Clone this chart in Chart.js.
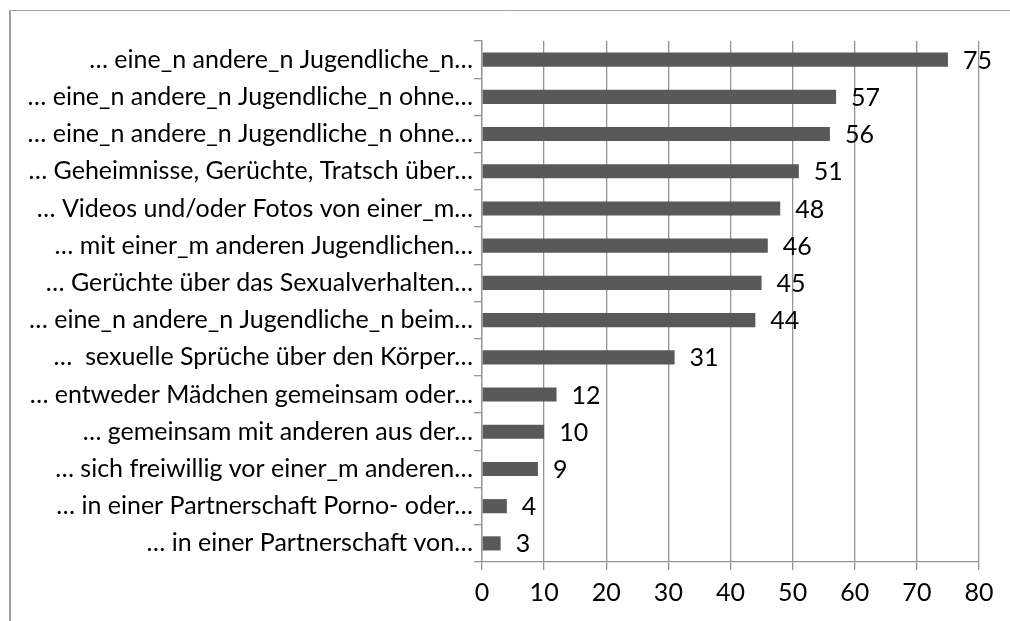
<!DOCTYPE html>
<html>
<head>
<meta charset="utf-8">
<script src="https://cdn.jsdelivr.net/npm/chart.js@4.4.1/dist/chart.umd.min.js"></script>
<style>
  html, body { margin: 0; padding: 0; background: #ffffff; }
  #wrap { width: 1010px; height: 621px; position: relative; }
</style>
</head>
<body>
<div id="wrap"><canvas id="c" width="1010" height="621"></canvas></div>
<script>
const categories = [
  "… eine_n andere_n Jugendliche_n…",
  "… eine_n andere_n Jugendliche_n ohne…",
  "… eine_n andere_n Jugendliche_n ohne…",
  "… Geheimnisse, Gerüchte, Tratsch über…",
  "… Videos und/oder Fotos von einer_m…",
  "… mit einer_m anderen Jugendlichen…",
  "… Gerüchte über das Sexualverhalten…",
  "… eine_n andere_n Jugendliche_n beim…",
  "…  sexuelle Sprüche über den Körper…",
  "… entweder Mädchen gemeinsam oder…",
  "… gemeinsam mit anderen aus der…",
  "… sich freiwillig vor einer_m anderen…",
  "… in einer Partnerschaft Porno- oder…",
  "… in einer Partnerschaft von…"
];
const values = [75, 57, 56, 51, 48, 46, 45, 44, 31, 12, 10, 9, 4, 3];
const xTicks = [0, 10, 20, 30, 40, 50, 60, 70, 80];

const FONT = "Lato";
const FSIZE = 25;
const GRID = "#949494";

const framePlugin = {
  id: "frame",
  beforeDraw(chart) {
    const ctx = chart.ctx;
    ctx.save();
    ctx.fillStyle = "#ffffff";
    ctx.fillRect(0, 0, chart.width, chart.height);
    ctx.strokeStyle = "#a0a0a0";
    ctx.lineWidth = 1;
    ctx.beginPath();
    ctx.moveTo(9, 10.5);
    ctx.lineTo(chart.width, 10.5);
    ctx.stroke();
    ctx.lineWidth = 2;
    ctx.beginPath();
    ctx.moveTo(10, 10);
    ctx.lineTo(10, chart.height);
    ctx.stroke();
    ctx.restore();
  }
};

const valueLabels = {
  id: "valueLabels",
  afterDatasetsDraw(chart) {
    const ctx = chart.ctx;
    const meta = chart.getDatasetMeta(0);
    ctx.save();
    ctx.font = FSIZE + "px " + FONT;
    ctx.fillStyle = "#000000";
    ctx.textAlign = "left";
    ctx.textBaseline = "middle";
    meta.data.forEach((bar, i) => {
      ctx.fillText(String(values[i]), bar.x + 15, bar.y + 1);
    });
    ctx.restore();
  }
};

new Chart(document.getElementById("c"), {
  type: "bar",
  data: {
    labels: categories,
    datasets: [{
      data: values,
      backgroundColor: "#595959",
      borderWidth: 0,
      categoryPercentage: 1,
      barPercentage: 0.38
    }]
  },
  options: {
    indexAxis: "y",
    responsive: false,
    animation: false,
    devicePixelRatio: 1,
    layout: { padding: { top: 41, right: 31, bottom: 0, left: 0 } },
    plugins: { legend: { display: false }, tooltip: { enabled: false } },
    scales: {
      x: {
        min: 0, max: 80,
        afterBuildTicks(scale) { scale.ticks = xTicks.map(v => ({ value: v })); },
        afterFit(scale) { scale.height = 59; },
        grid: { color: GRID, lineWidth: 1.3, drawOnChartArea: true, drawTicks: true, tickLength: 8, tickColor: GRID },
        border: { display: true, color: GRID, width: 1.3 },
        ticks: { color: "#000000", font: { family: FONT, size: FSIZE }, padding: 8, maxRotation: 0 }
      },
      y: {
        afterFit(scale) { scale.width = 482; },
        grid: { display: true, drawOnChartArea: false, drawTicks: true, tickLength: 8, color: GRID, lineWidth: 1.3, offset: true },
        border: { display: true, color: GRID, width: 1.3 },
        ticks: { color: "#000000", font: { family: FONT, size: FSIZE }, padding: 1, autoSkip: false }
      }
    }
  },
  plugins: [framePlugin, valueLabels]
});
</script>
</body>
</html>
